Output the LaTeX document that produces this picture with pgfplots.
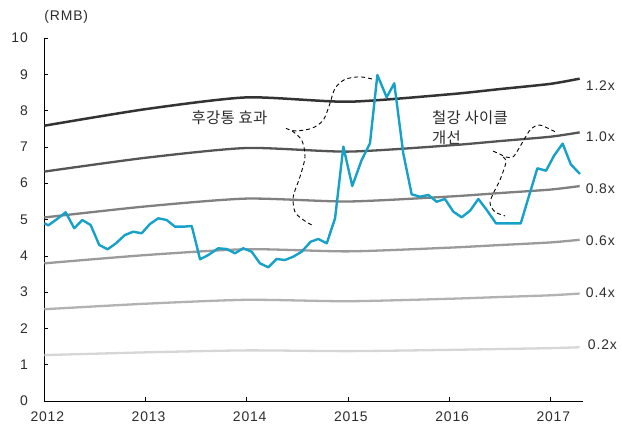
\documentclass[border=0pt]{standalone}
\usepackage{pgfplots}
\pgfplotsset{compat=1.18}
\usepackage{fontspec}
\setmainfont[LetterSpace=6]{Liberation Sans}
\newfontfamily\kr[LetterSpace=2]{Noto Sans CJK KR}
\definecolor{blueline}{RGB}{22,161,201}
\definecolor{ca}{RGB}{51,51,51}
\definecolor{cb}{RGB}{85,85,85}
\definecolor{cc}{RGB}{128,128,128}
\definecolor{cd}{RGB}{155,155,155}
\definecolor{ce}{RGB}{178,178,178}
\definecolor{cf}{RGB}{214,214,214}
\definecolor{txt}{RGB}{45,45,45}
\tikzset{
  lab/.style={anchor=west, inner sep=0, font=\fontsize{14}{16}\selectfont, text=txt},
  krlab/.style={inner sep=0, font=\kr\fontsize{15.5}{18}\selectfont, text=txt},
}
\begin{document}
\begin{tikzpicture}
\begin{axis}[
  scale only axis, width=539bp, height=363bp,
  xmin=2012, xmax=2017.326, ymin=0, ymax=10,
  axis lines=left, axis line style={-, line width=1pt, black},
  xtick={2012,2013,2014,2015,2016,2017},
  xticklabels={2012,2013,2014,2015,2016,2017},
  ytick={0,1,2,3,4,5,6,7,8,9,10},
  tick align=inside, major tick length=4bp,
  tick style={black, line width=0.6pt},
  /pgf/number format/assume math mode=true,
  ticklabel style={font=\fontsize{14}{16}\selectfont, text=txt},
  xticklabel style={xshift=3bp, yshift=-7bp},
  yticklabel style={xshift=-13bp},
  clip=false,
]
% valuation bands
\addplot[cf, line width=2.3bp, smooth, tension=0.4] coordinates {(2012,1.264) (2013,1.34) (2014,1.394) (2015,1.374) (2016,1.408) (2016.5,1.432) (2017,1.456) (2017.29,1.48)};
\addplot[ce, line width=2.3bp, smooth, tension=0.4] coordinates {(2012,2.528) (2013,2.68) (2014,2.788) (2015,2.748) (2016,2.816) (2016.5,2.864) (2017,2.912) (2017.29,2.96)};
\addplot[cd, line width=2.3bp, smooth, tension=0.4] coordinates {(2012,3.792) (2013,4.02) (2014,4.182) (2015,4.122) (2016,4.224) (2016.5,4.296) (2017,4.368) (2017.29,4.44)};
\addplot[cc, line width=2.3bp, smooth, tension=0.4] coordinates {(2012,5.056) (2013,5.36) (2014,5.576) (2015,5.496) (2016,5.632) (2016.5,5.728) (2017,5.824) (2017.29,5.92)};
\addplot[cb, line width=2.3bp, smooth, tension=0.4] coordinates {(2012,6.32) (2013,6.70) (2014,6.97) (2015,6.87) (2016,7.04) (2016.5,7.16) (2017,7.28) (2017.29,7.40)};
\addplot[ca, line width=2.5bp, smooth, tension=0.4] coordinates {(2012,7.584) (2013,8.04) (2014,8.364) (2015,8.244) (2016,8.448) (2016.5,8.592) (2017,8.736) (2017.29,8.88)};
% dashed annotation curves
\addplot[black, line width=0.9bp, dash pattern=on 4bp off 3bp, smooth] coordinates {(2015.238,8.87) (2015.119,8.93) (2014.971,8.86) (2014.872,8.61) (2014.823,8.20) (2014.757,7.74) (2014.642,7.51) (2014.477,7.44) (2014.388,7.51)};
\addplot[black, line width=0.9bp, dash pattern=on 4bp off 3bp, smooth] coordinates {(2014.448,7.44) (2014.543,7.19) (2014.576,6.73) (2014.527,6.18) (2014.460,5.63) (2014.477,5.21) (2014.559,4.99) (2014.642,4.85)};
\addplot[black, line width=0.9bp, dash pattern=on 4bp off 3bp, smooth] coordinates {(2017.046,7.42) (2016.898,7.60) (2016.816,7.51) (2016.767,7.33) (2016.701,7.01) (2016.634,6.73) (2016.562,6.72) (2016.503,6.80) (2016.421,6.90)};
\addplot[black, line width=0.9bp, dash pattern=on 4bp off 3bp, smooth] coordinates {(2016.533,6.72) (2016.562,6.58) (2016.503,6.09) (2016.437,5.72) (2016.404,5.45) (2016.453,5.21) (2016.552,5.10)};
% price
\addplot[blueline, line width=2.4bp, line join=round] coordinates {
(2012.000,4.895) (2012.040,4.840) (2012.123,5.006) (2012.211,5.198) (2012.296,4.758) (2012.375,4.986) (2012.458,4.848) (2012.543,4.298) (2012.626,4.179) (2012.708,4.344) (2012.797,4.573) (2012.879,4.664) (2012.962,4.620)
(2013.044,4.876) (2013.126,5.033) (2013.209,4.986) (2013.292,4.802) (2013.374,4.802) (2013.457,4.821) (2013.539,3.904) (2013.621,4.022) (2013.719,4.207) (2013.802,4.187) (2013.884,4.069) (2013.966,4.207)
(2014.049,4.113) (2014.131,3.793) (2014.213,3.683) (2014.296,3.912) (2014.378,3.884) (2014.460,3.975) (2014.543,4.113) (2014.632,4.388) (2014.708,4.463) (2014.791,4.344) (2014.873,5.033) (2014.955,7.006)
(2015.043,5.923) (2015.136,6.639) (2015.218,7.099) (2015.291,8.981) (2015.383,8.366) (2015.458,8.752) (2015.547,6.824) (2015.630,5.694) (2015.712,5.628) (2015.794,5.675) (2015.877,5.490) (2015.959,5.565)
(2016.042,5.215) (2016.124,5.061) (2016.207,5.242) (2016.289,5.565) (2016.372,5.262) (2016.463,4.895) (2016.545,4.895) (2016.627,4.895) (2016.708,4.895) (2016.792,5.675) (2016.872,6.410) (2016.958,6.344)
(2017.037,6.760) (2017.122,7.090) (2017.202,6.521) (2017.293,6.253)};
% texts
\node[lab] at ([yshift=21bp]axis cs:2012,10) {(RMB)};
\node[krlab, anchor=center] at (axis cs:2013.83,7.80) {후강통 효과};
\node[krlab, anchor=west] at (axis cs:2015.83,7.80) {철강 사이클};
\node[krlab, anchor=west] at (axis cs:2015.83,7.26) {개선};
\node[lab] at (axis cs:2017.35,8.68) {1.2x};
\node[lab] at (axis cs:2017.35,7.28) {1.0x};
\node[lab] at (axis cs:2017.35,5.84) {0.8x};
\node[lab] at (axis cs:2017.35,4.42) {0.6x};
\node[lab] at (axis cs:2017.35,2.97) {0.4x};
\node[lab] at (axis cs:2017.37,1.54) {0.2x};
\end{axis}
\pgfresetboundingbox
\path[use as bounding box] (current axis.south west) ++(-44.3bp,-30bp) rectangle ++(622bp,431bp);
\end{tikzpicture}
\end{document}
